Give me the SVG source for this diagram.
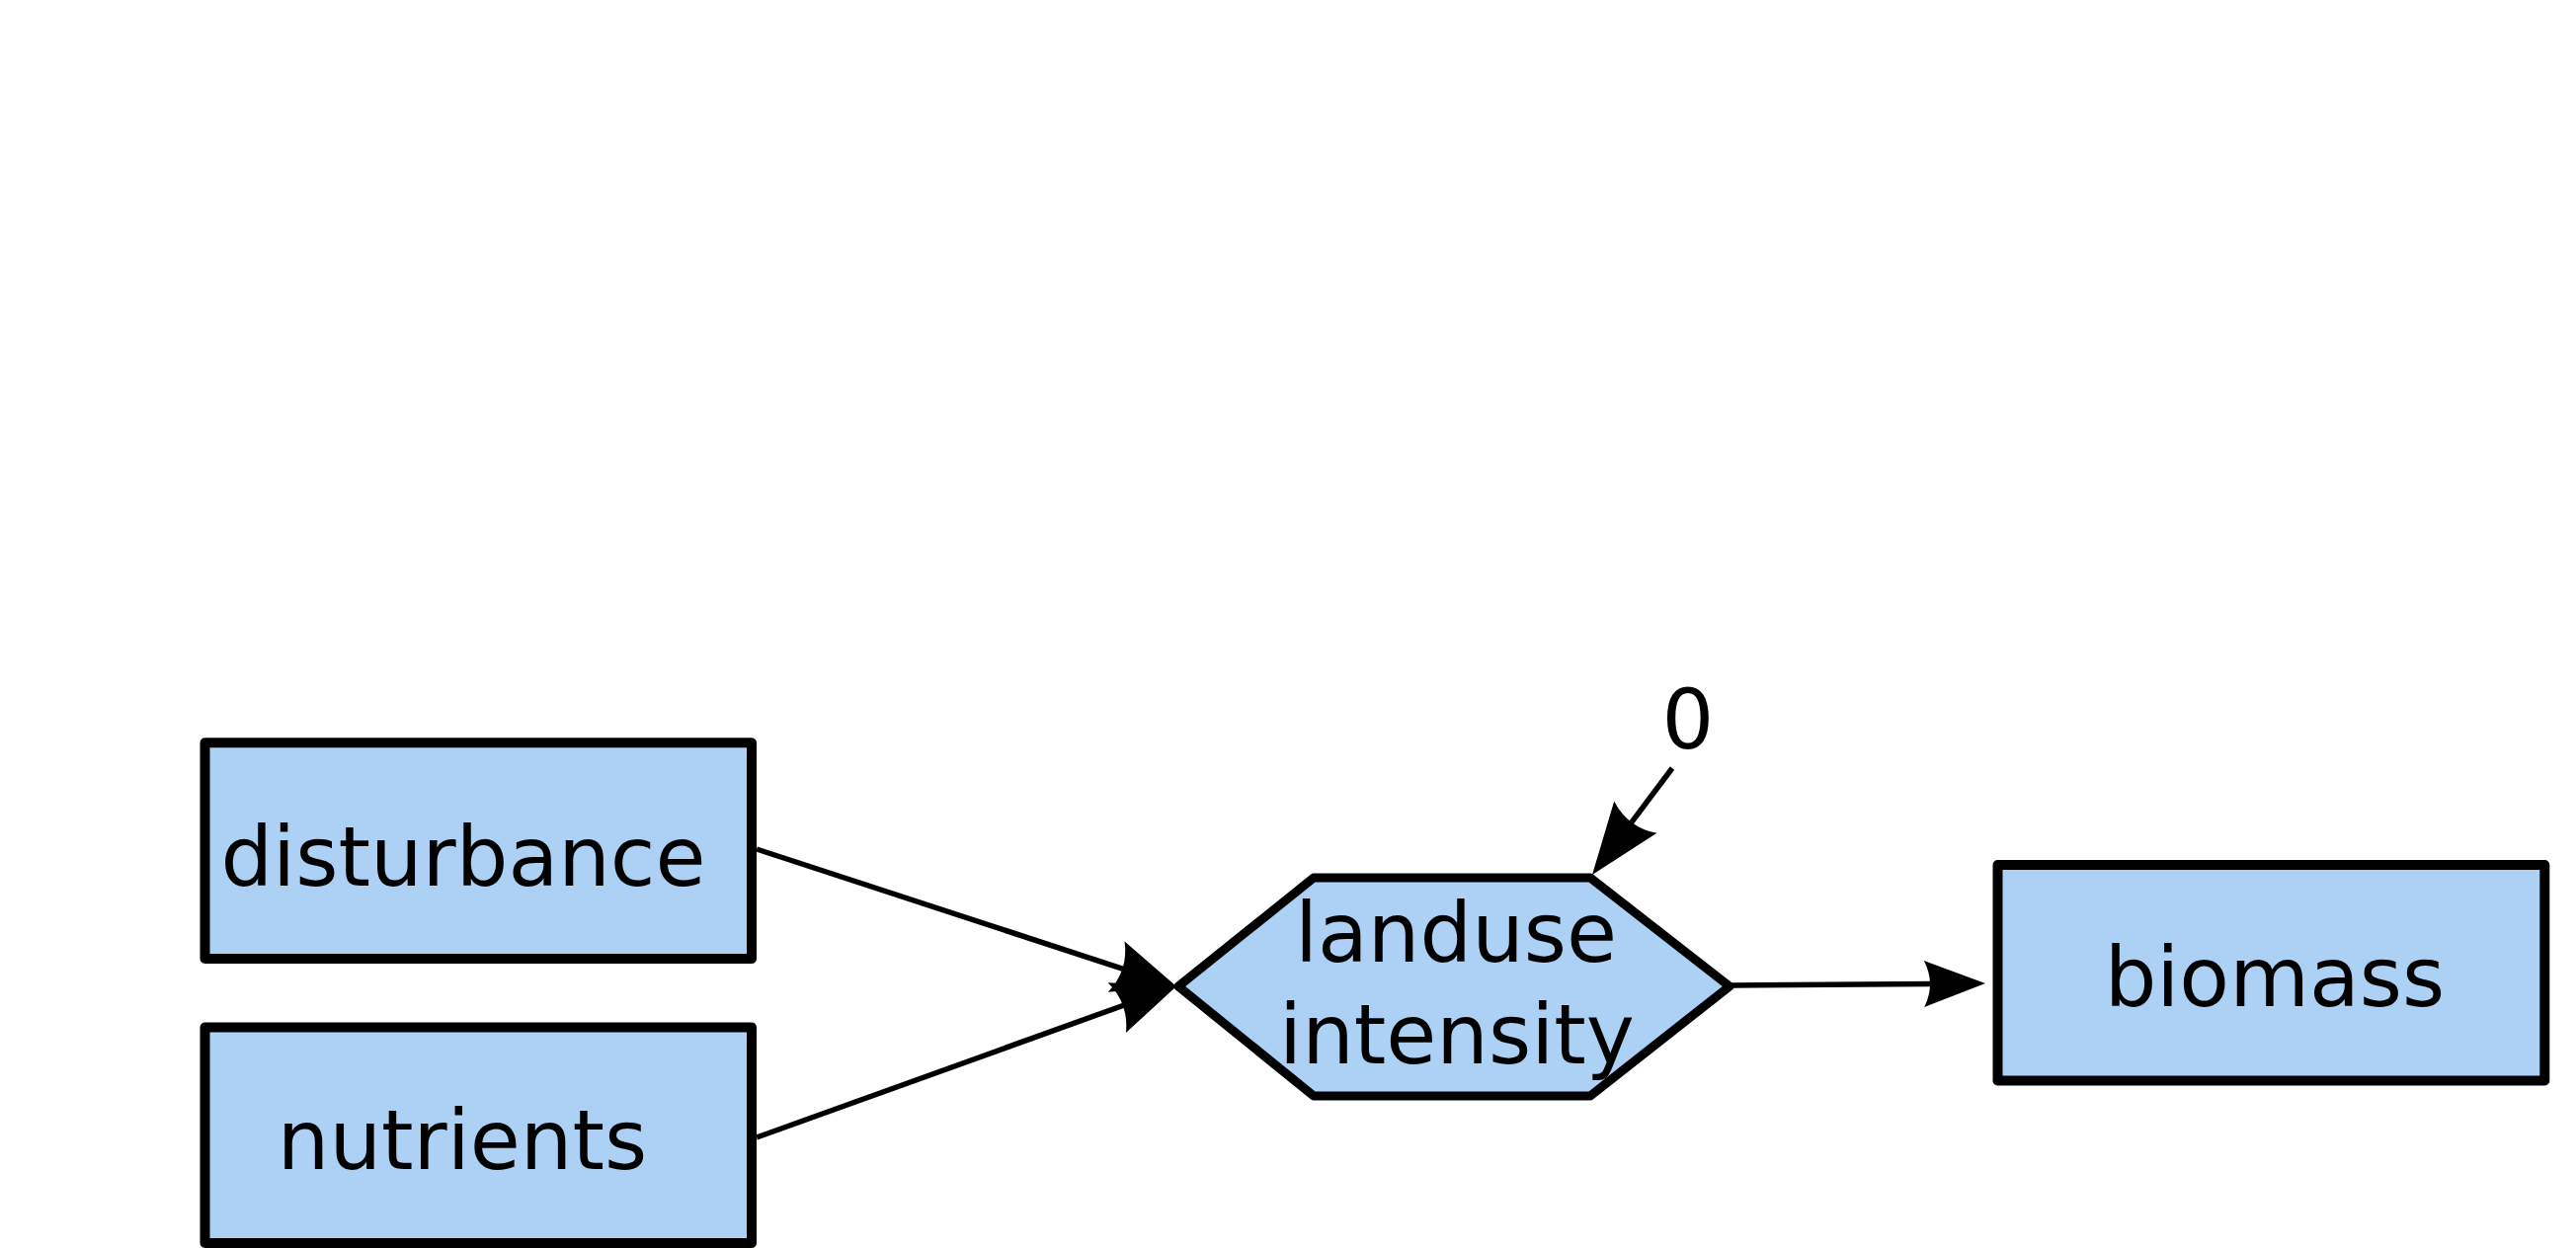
<svg xmlns="http://www.w3.org/2000/svg" width="2608" height="1264" viewBox="0 0 2608 1264">
<style>
.node{fill:#add0f5;stroke:#000;stroke-width:10;stroke-linejoin:round}
.hex{fill:#add0f5;stroke:#000;stroke-width:9;stroke-linejoin:round}
.lbl{font-family:"DejaVu Sans","Liberation Sans",sans-serif;font-size:83px;fill:#000;text-anchor:middle}
.edge{fill:none;stroke:#000;stroke-width:5.5}
</style>
<defs>
<marker id="arrow" markerUnits="userSpaceOnUse" orient="auto" refX="-56" refY="0" markerWidth="80" markerHeight="70" viewBox="-70 -35 80 70" overflow="visible">
<path d="M0,0 L-64,-27 Q-51,0 -64,27 Z" fill="#000"/>
</marker>
<marker id="arrow-b" markerUnits="userSpaceOnUse" orient="auto" refX="-54" refY="0" markerWidth="80" markerHeight="70" viewBox="-70 -35 80 70" overflow="visible">
<path d="M0,0 L-62,-23.5 Q-50,0 -62,23.5 Z" fill="#000"/>
</marker>
<marker id="arrow-c" markerUnits="userSpaceOnUse" orient="auto" refX="-62" refY="0" markerWidth="90" markerHeight="70" viewBox="-80 -35 90 70" overflow="visible">
<path d="M0,0 L-73,-27 Q-60,0 -73,27 Z" fill="#000"/>
</marker>
</defs>
<rect width="2608" height="1264" fill="#fff"/>
<g id="connectors">
<line class="edge" x1="766" y1="860" x2="1137.8" y2="981.6" marker-end="url(#arrow)"/>
<line class="edge" x1="766" y1="1152" x2="1138.3" y2="1018" marker-end="url(#arrow)"/>
<line class="edge" x1="1751" y1="998" x2="1956" y2="996.4" marker-end="url(#arrow-b)"/>
<line class="edge" x1="1693" y1="778" x2="1649.2" y2="836.4" marker-end="url(#arrow-c)"/>
</g>
<g id="node-disturbance">
<rect class="node" x="207.5" y="752.3" width="553.5" height="218.7"/>
<text class="lbl" x="469" y="897">disturbance</text>
</g>
<g id="node-nutrients">
<rect class="node" x="207.5" y="1040.5" width="553.5" height="218.5"/>
<text class="lbl" x="468" y="1184">nutrients</text>
</g>
<g id="node-landuse">
<polygon class="hex" points="1193,999 1330,889 1610,889 1751,999 1610,1110 1330,1110"/>
<text class="lbl" x="1474" y="974">landuse</text>
<text class="lbl" x="1475" y="1077">intensity</text>
</g>
<g id="node-biomass">
<rect class="node" x="2022.5" y="876" width="553.8" height="218.5"/>
<text class="lbl" x="2303" y="1019">biomass</text>
</g>
<g id="label-zero">
<text class="lbl" x="1709" y="758">0</text>
</g>
</svg>
